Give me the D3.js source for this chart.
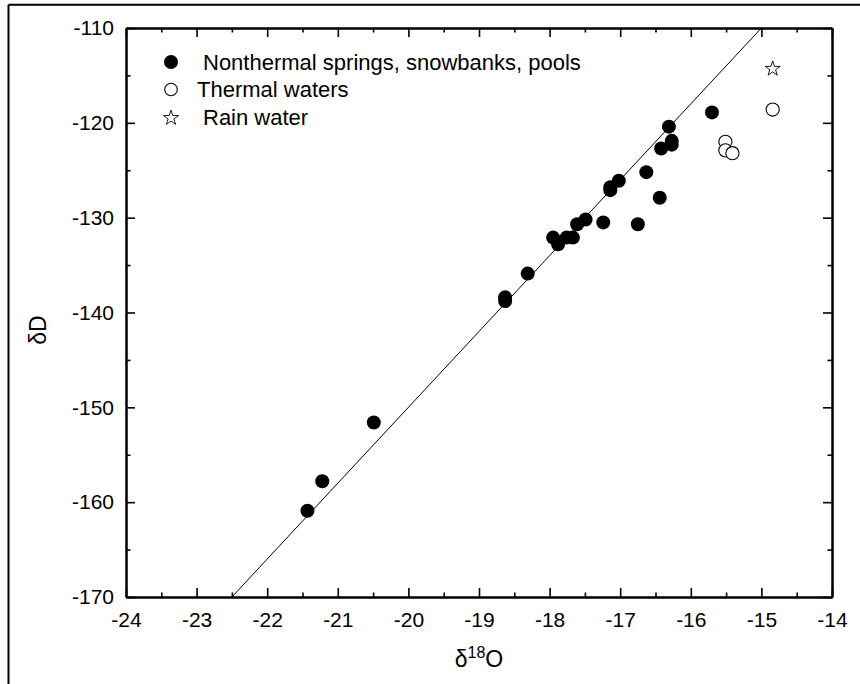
<!DOCTYPE html>
<html>
<head>
<meta charset="utf-8">
<script src="https://cdn.jsdelivr.net/npm/d3@7"></script>
<style>
  body { margin: 0; background: #fff; }
  svg { display: block; font-family: Arial, "Liberation Sans", sans-serif; }
</style>
</head>
<body>
<svg width="860" height="684"></svg>
<script>
// Data
var nonthermalO = [-21.43, -21.22, -20.49, -18.63, -18.63, -18.31, -17.95, -17.88, -17.76, -17.67,
                   -17.61, -17.49, -17.24, -17.14, -17.14, -17.02, -16.75, -16.63, -16.44, -16.42,
                   -16.31, -16.27, -16.27, -15.70];
var nonthermalD = [-160.9, -157.8, -151.6, -138.4, -138.8, -135.9, -132.1, -132.8, -132.1, -132.1,
                   -130.7, -130.2, -130.5, -126.8, -127.1, -126.1, -130.7, -125.2, -127.9, -122.7,
                   -120.4, -121.9, -122.3, -118.9];
var thermalO = [-15.51, -15.51, -15.41, -14.84];
var thermalD = [-122.0, -122.9, -123.2, -118.6];
var rainO = [-14.84];
var rainD = [-114.2];

// meteoric water line dD = 8 d18O + 10
var lineO = [-22.5, -15];
var lineSlope = 8, lineIntercept = 10;

var xTicks = [-24, -23, -22, -21, -20, -19, -18, -17, -16, -15, -14];
var yTicks = [-170, -160, -150, -140, -130, -120, -110];
var legendLabels = ["Nonthermal springs, snowbanks, pools", "Thermal waters", "Rain water"];

var svg = d3.select("svg");

// outer frame (cropped: only top and left show)
svg.append("line").attr("x1", 8.5).attr("y1", 4.8).attr("x2", 860).attr("y2", 4.8)
    .attr("stroke", "#000").attr("stroke-width", 2);
svg.append("line").attr("x1", 8.5).attr("y1", 4.8).attr("x2", 8.5).attr("y2", 684)
    .attr("stroke", "#000").attr("stroke-width", 2);

var margin = { left: 126, top: 28, right: 832, bottom: 597 };

var xScale = d3.scaleLinear().domain([-24, -14]).range([margin.left, margin.right]);
var yScale = d3.scaleLinear().domain([-170, -110]).range([margin.bottom, margin.top]);

var xMinor = d3.range(-23.5, -14, 1);
var yMinor = d3.range(-165, -110, 10);

var plainFormat = d => String(d); // hyphen minus, like the original

function styleAxis(g) {
    g.selectAll("path").attr("stroke", "#000").attr("stroke-width", 2);
    g.selectAll("line").attr("stroke", "#000").attr("stroke-width", 1.6);
    g.selectAll("text").attr("fill", "#000").style("font-size", "21px")
        .style("font-family", "Arial, 'Liberation Sans', sans-serif");
}

// bottom
svg.append("g").attr("transform", "translate(0," + margin.bottom + ")")
    .call(d3.axisBottom(xScale).tickValues(xTicks).tickSizeInner(-9).tickSizeOuter(0).tickPadding(15)
        .tickFormat(plainFormat))
    .call(styleAxis);
svg.append("g").attr("transform", "translate(0," + margin.bottom + ")")
    .call(d3.axisBottom(xScale).tickValues(xMinor).tickSizeInner(-4.5).tickSizeOuter(0).tickFormat(""))
    .call(styleAxis);
// top
svg.append("g").attr("transform", "translate(0," + margin.top + ")")
    .call(d3.axisTop(xScale).tickValues(xTicks).tickSizeInner(-9).tickSizeOuter(0).tickFormat(""))
    .call(styleAxis);
svg.append("g").attr("transform", "translate(0," + margin.top + ")")
    .call(d3.axisTop(xScale).tickValues(xMinor).tickSizeInner(-4.5).tickSizeOuter(0).tickFormat(""))
    .call(styleAxis);
// left
svg.append("g").attr("transform", "translate(" + margin.left + ",0)")
    .call(d3.axisLeft(yScale).tickValues(yTicks).tickSizeInner(-9).tickSizeOuter(0).tickPadding(12)
        .tickFormat(plainFormat))
    .call(styleAxis);
svg.append("g").attr("transform", "translate(" + margin.left + ",0)")
    .call(d3.axisLeft(yScale).tickValues(yMinor).tickSizeInner(-4.5).tickSizeOuter(0).tickFormat(""))
    .call(styleAxis);
// right
svg.append("g").attr("transform", "translate(" + margin.right + ",0)")
    .call(d3.axisRight(yScale).tickValues(yTicks).tickSizeInner(-9).tickSizeOuter(0).tickFormat(""))
    .call(styleAxis);
svg.append("g").attr("transform", "translate(" + margin.right + ",0)")
    .call(d3.axisRight(yScale).tickValues(yMinor).tickSizeInner(-4.5).tickSizeOuter(0).tickFormat(""))
    .call(styleAxis);

// axis titles
var xTitle = svg.append("text")
    .attr("x", xScale(-19))
    .attr("y", 667)
    .attr("text-anchor", "middle")
    .style("font-size", "23px");
xTitle.append("tspan").text("\u03b4");
xTitle.append("tspan").attr("dy", -9).style("font-size", "16px").text("18");
xTitle.append("tspan").attr("dy", 9).text("O");

svg.append("text")
    .attr("transform", "translate(46,330) rotate(-90)")
    .attr("text-anchor", "middle")
    .style("font-size", "23px")
    .text("\u03b4D");

// meteoric water line
var mwl = d3.line().x(d => xScale(d)).y(d => yScale(lineSlope * d + lineIntercept));
svg.append("path")
    .attr("d", mwl(lineO))
    .attr("fill", "none")
    .attr("stroke", "#000")
    .attr("stroke-width", 1);

var plotG = svg.append("g");

plotG.selectAll(".nonthermal").data(nonthermalO)
    .enter().append("circle")
    .attr("class", "nonthermal")
    .attr("cx", d => xScale(d))
    .attr("cy", (d, i) => yScale(nonthermalD[i]))
    .attr("r", 7)
    .attr("fill", "#000");

plotG.selectAll(".thermal").data(thermalO)
    .enter().append("circle")
    .attr("class", "thermal")
    .attr("cx", d => xScale(d))
    .attr("cy", (d, i) => yScale(thermalD[i]))
    .attr("r", 6.6)
    .attr("fill", "#fff")
    .attr("stroke", "#000")
    .attr("stroke-width", 1.1);

var star = d3.symbol().type(d3.symbolStar).size(70);
plotG.selectAll(".rain").data(rainO)
    .enter().append("path")
    .attr("class", "rain")
    .attr("d", star)
    .attr("transform", (d, i) => "translate(" + xScale(d) + "," + (yScale(rainD[i]) + 1) + ")")
    .attr("fill", "#fff")
    .attr("stroke", "#000")
    .attr("stroke-width", 0.9);

// legend
var legendG = svg.append("g");
var legendY = [62, 89.5, 117];
var legendTextX = [203, 197, 203];

legendG.append("circle").attr("cx", 171).attr("cy", legendY[0]).attr("r", 7).attr("fill", "#000");
legendG.append("circle").attr("cx", 171).attr("cy", legendY[1]).attr("r", 6.3)
    .attr("fill", "#fff").attr("stroke", "#000").attr("stroke-width", 1.1);
legendG.append("path").attr("d", star)
    .attr("transform", "translate(171," + (legendY[2] + 1) + ")")
    .attr("fill", "#fff").attr("stroke", "#000").attr("stroke-width", 0.9);

legendLabels.forEach((lbl, i) => {
    legendG.append("text")
        .attr("x", legendTextX[i])
        .attr("y", legendY[i] + 7.5)
        .style("font-size", "22px")
        .text(lbl);
});
</script>
</body>
</html>
